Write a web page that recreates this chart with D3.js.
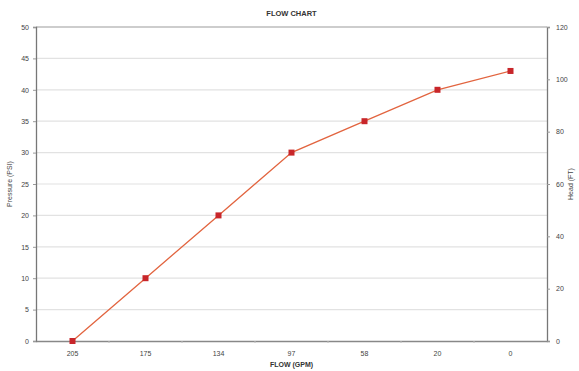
<!DOCTYPE html>
<html><head><meta charset="utf-8">
<script src="https://cdn.jsdelivr.net/npm/d3@7"></script>
<style>body{margin:0;background:#fff}svg{display:block;font-family:"Liberation Sans",Arial,sans-serif}</style>
</head><body><svg id="c" width="579" height="371"></svg>
<script>
const categories = ["205","175","134","97","58","20","0"];
const pressure = [0,10,20,30,35,40,43];
const leftTicks = [0,5,10,15,20,25,30,35,40,45,50];
const rightTicks = [0,20,40,60,80,100,120];
const title = "FLOW CHART";
const xLabel = "FLOW (GPM)";
const yLabel = "Pressure (PSI)";
const y2Label = "Head (FT)";

const svg = d3.select("#c");
const m = {l:36, r:547, t:27, b:341};
const x = d3.scaleBand().domain(categories).range([m.l, m.r]);
const y = d3.scaleLinear().domain([0,50]).range([m.b, m.t]);
const y2 = d3.scaleLinear().domain([0,120]).range([m.b, m.t]);

// grid
svg.append("g").selectAll("line").data(leftTicks.filter(d=>d>0)).join("line")
  .attr("x1", m.l).attr("x2", m.r).attr("y1", d=>y(d)).attr("y2", d=>y(d))
  .attr("stroke", d=>d===50?"#bdbdbd":"#e2e2e2").attr("stroke-width", d=>d===50?1.5:1.2);

// left axis
const gl = svg.append("g").attr("transform",`translate(${m.l},0)`)
  .call(d3.axisLeft(y).tickValues(leftTicks).tickSize(3).tickPadding(4));
gl.select(".domain").attr("stroke","#777").attr("stroke-width",1.3);
gl.selectAll(".tick line").attr("stroke","#999");
gl.selectAll("text").attr("font-size",7).attr("fill","#444");

// right axis
const gr = svg.append("g").attr("transform",`translate(${m.r},0)`)
  .call(d3.axisRight(y2).tickValues(rightTicks).tickSize(3).tickPadding(6));
gr.select(".domain").attr("stroke","#777").attr("stroke-width",1.3);
gr.selectAll(".tick line").attr("stroke","#999");
gr.selectAll("text").attr("font-size",7).attr("fill","#444");

// bottom axis
const gb = svg.append("g").attr("transform",`translate(0,${m.b})`)
  .call(d3.axisBottom(x).tickSize(0).tickPadding(10));
gb.select(".domain").attr("stroke","#888").attr("stroke-width",1.5);
gb.selectAll("text").attr("font-size",7).attr("fill","#444");
gb.selectAll(".sep").data(categories.slice(1)).join("line").attr("class","sep")
  .attr("x1", d=>x(d)).attr("x2", d=>x(d)).attr("y1",0).attr("y2",2)
  .attr("stroke","#bbb");

// line
const line = d3.line().x((d,i)=>x(categories[i])+x.bandwidth()/2).y(d=>y(d));
svg.append("path").datum(pressure).attr("d", line)
  .attr("fill","none").attr("stroke","#e2643f").attr("stroke-width",1.3);
svg.append("g").selectAll("rect").data(pressure).join("rect")
  .attr("x",(d,i)=>x(categories[i])+x.bandwidth()/2-3)
  .attr("y",d=>y(d)-3).attr("width",6).attr("height",6)
  .attr("fill","#c8262a");

// labels
svg.append("text").attr("x",(m.l+m.r)/2).attr("y",16).attr("text-anchor","middle")
  .attr("font-size",7.5).attr("font-weight","bold").attr("fill","#333").text(title);
svg.append("text").attr("x",(m.l+m.r)/2).attr("y",367).attr("text-anchor","middle")
  .attr("font-size",7).attr("font-weight","bold").attr("fill","#333").text(xLabel);
svg.append("text").attr("transform",`translate(12,${(m.t+m.b)/2}) rotate(-90)`)
  .attr("text-anchor","middle").attr("font-size",7).attr("fill","#444").text(yLabel);
svg.append("text").attr("transform",`translate(573,${(m.t+m.b)/2}) rotate(-90)`)
  .attr("text-anchor","middle").attr("font-size",7).attr("fill","#444").text(y2Label);
</script></body></html>
